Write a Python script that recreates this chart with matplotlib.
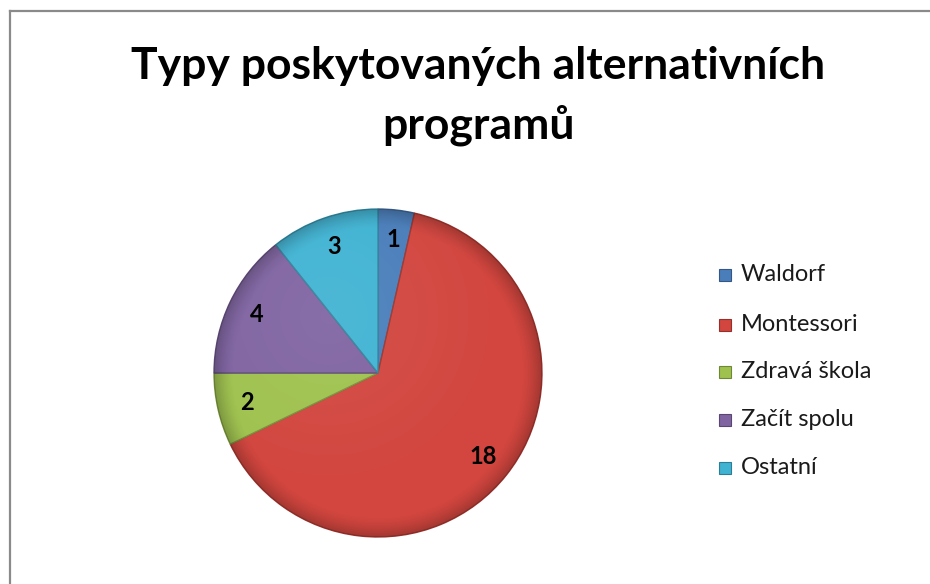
import matplotlib.pyplot as plt
import matplotlib.colors as mcolors
from matplotlib.lines import Line2D
from matplotlib.patches import Circle
import numpy as np

# data
categories = ['Waldorf', 'Montessori', 'Zdravá škola', 'Začít spolu', 'Ostatní']
counts = [1, 18, 2, 4, 3]
colors = ['#4a7ebb', '#d2463f', '#9fc24f', '#8064a2', '#40b3d3']
title = 'Typy poskytovaných alternativních\nprogramů'

plt.rcParams['font.family'] = ['Lato', 'DejaVu Sans']


def darker(c, f=0.7):
    r, g, b = mcolors.to_rgb(c)
    return (r * f, g * f, b * f)


fig = plt.figure(figsize=(9.3, 5.84), dpi=100)

# frame: only top and left edges are visible in the reference
fig.add_artist(Line2D([10 / 930, 1], [1 - 11 / 584, 1 - 11 / 584],
                      transform=fig.transFigure, color='#8a8a8a', lw=1.6))
fig.add_artist(Line2D([10 / 930, 10 / 930], [0, 1 - 11 / 584],
                      transform=fig.transFigure, color='#8a8a8a', lw=1.6))

fig.text(0.514, 0.835, title, ha='center', va='center', fontsize=32,
         fontweight='bold', linespacing=1.55)

ax = fig.add_axes([0.2301, 0.0805, 0.3527, 0.5616])
wedges, _ = ax.pie(counts, colors=colors, startangle=90, counterclock=False,
                   radius=1.0, wedgeprops=dict(linewidth=1.0))
for w, c in zip(wedges, colors):
    w.set_edgecolor(darker(c, 0.75))

# soft bevel shading over the pie
n = 300
xx, yy = np.meshgrid(np.linspace(-1, 1, n), np.linspace(-1, 1, n))
rr = np.hypot(xx, yy)
shade = np.zeros((n, n, 4))
edge = np.clip((rr - 0.88) / 0.12, 0, 1)
shade[..., 3] = 0.22 * edge ** 1.5
glow = np.clip(1 - np.hypot(xx + 0.3, yy - 0.35) / 1.1, 0, 1)
light = np.zeros((n, n, 4))
light[..., :3] = 1.0
light[..., 3] = 0.07 * glow
for img in (shade, light):
    im = ax.imshow(img, extent=(-1, 1, -1, 1), origin='lower', zorder=3,
                   interpolation='bilinear')
    im.set_clip_path(Circle((0, 0), 1.0, transform=ax.transData))

# value labels inside the slices
for w, v in zip(wedges, counts):
    ang = np.deg2rad((w.theta1 + w.theta2) / 2)
    ax.text(0.82 * np.cos(ang), 0.82 * np.sin(ang), str(v), ha='center',
            va='center', fontsize=17, fontweight='bold', color='black',
            zorder=5)

ax.set_xlim(-1.0, 1.0)
ax.set_ylim(-1.0, 1.0)
ax.set_aspect('equal')
ax.axis('off')

# legend
leg_y = [275, 325, 372, 420, 468]
for name, c, y in zip(categories, colors, leg_y):
    yf = 1 - y / 584
    fig.patches.append(plt.Rectangle((719 / 930, yf - 6 / 584), 12 / 930, 12 / 584,
                                     transform=fig.transFigure, facecolor=c,
                                     edgecolor=darker(c, 0.7), lw=0.8))
    fig.text(741 / 930, yf, name, ha='left', va='center', fontsize=17,
             color='#1a1a1a')

fig.savefig('out.png', dpi=100, facecolor='white')
